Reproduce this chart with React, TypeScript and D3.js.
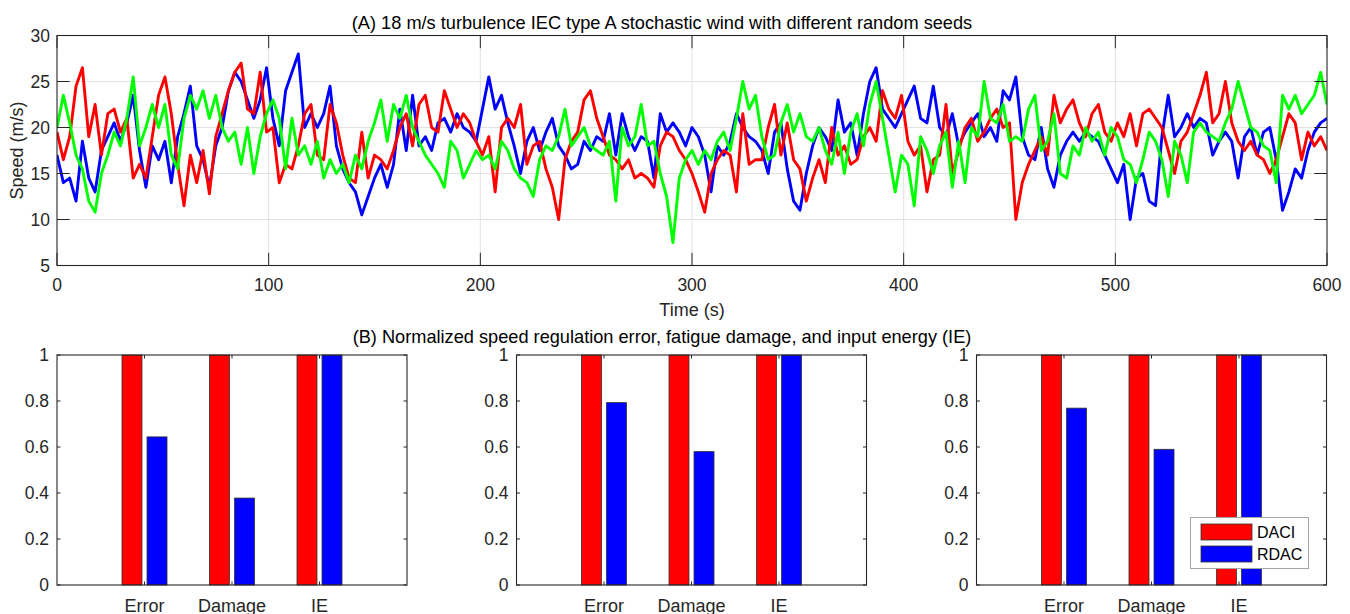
import React from 'react';
import * as d3 from 'd3';

// sample times (s)
const TIME: number[] = d3.range(0, 601, 3);

// wind speed series (m/s), every 3 s
const BLUE_SEED: number[] = [
  17, 14, 14.5, 12, 18.5, 14.5, 13, 17.5, 19, 20.5, 18.5, 20.5, 23.5, 17.5, 13.5, 18, 16.5, 18.5, 14, 19, 21.5, 24.5, 18, 16.5, 13.5, 18, 20, 24, 26, 25, 23, 21, 23, 26.5,
  21, 18, 24, 26, 28, 20, 21.5, 20, 21.5, 24.5, 18, 15.5, 14, 13, 10.5, 12.5, 14.5, 16, 13.5, 16, 22, 17.5, 23.5, 18, 19, 17.5, 20.5, 21, 19.5, 21.5, 20, 19.5, 18.5, 22,
  25.5, 22, 23.5, 20.5, 18, 15, 18.5, 20, 17.5, 19.5, 21, 18, 17, 15.5, 16, 18.5, 17.5, 19, 18.5, 21.5, 17, 21.5, 19, 17.5, 19, 18.5, 14.5, 21.5, 19.5, 20.5, 19.5, 18, 20,
  19, 17, 13, 18, 17, 18.5, 21.5, 20, 19, 18.5, 17.5, 15, 19.5, 20.5, 15.5, 12, 11, 15, 18, 20, 19, 17.5, 23, 19.5, 20.5, 17, 21.5, 25, 26.5, 22, 21, 20, 21.5, 23, 24.5, 21, 20.5,
  24.5, 20, 19, 21.5, 18, 19.5, 20.5, 21.5, 19, 20, 18.5, 24, 23, 25.5, 19, 17, 16.5, 20, 15.5, 13.5, 17, 18.5, 19.5, 18.5, 19.5, 19, 18.5, 17, 15.5, 14, 16, 10, 14.5, 15,
  12, 11.5, 19, 23.5, 19, 20, 21.5, 20, 21, 20.5, 17, 18.5, 19.5, 18.5, 14.5, 19, 20, 17, 19.5, 20, 16.5, 11, 13, 15.5, 14.5, 17.5, 19.5, 20.5, 21,
];
const RED_SEED: number[] = [
  19.5, 16.5, 19, 24.5, 26.5, 19, 22.5, 17, 21.5, 22, 19.5, 21, 14.5, 16, 14.5, 19, 23.5, 25.5, 21.5, 16, 11.5, 17, 14, 17.5, 12.8, 19, 21.5, 24, 26, 27, 22, 21.5, 26, 19.5,
  20, 14, 16, 15.5, 18, 21.5, 22.5, 17, 16.5, 22.5, 20.5, 17, 14.5, 14, 19.5, 14.5, 17, 16.5, 15.5, 17.5, 20, 21.5, 18, 22.5, 23.5, 20, 19.5, 24, 22, 20, 21.5, 20.5, 18.5, 17,
  19, 13, 20, 21, 20, 22.5, 16, 18, 18.5, 15.5, 13.5, 10, 16.5, 18.5, 19.5, 23, 24, 21, 19, 17, 16.5, 15.5, 16.5, 14.5, 15, 14.5, 13.5, 18, 19.5, 19, 17.5, 16.5, 15,
  13, 10.8, 15, 16.5, 17.5, 17, 13, 21.5, 16, 16.5, 16.5, 20, 22.5, 17, 20.5, 16.5, 15.5, 12, 14.5, 16.5, 14, 20, 17, 18, 16, 16.5, 19, 20, 18.5, 24, 22, 21, 23.5, 18.5, 17, 18, 13,
  16.5, 17, 22.5, 15, 17.5, 20, 21, 18.5, 19.5, 21, 22, 20, 20.5, 10, 14, 16, 17.5, 19, 17, 23.5, 20.5, 22, 23, 20.5, 19, 21.5, 22.5, 19.5, 18.5, 20.5, 19, 21.5, 18, 21.5,
  22, 21, 20, 17.5, 15, 18.5, 19.5, 21.5, 23.5, 26, 20.5, 21.5, 25, 20.5, 18.5, 17.5, 18.5, 17, 16.5, 15, 16.5, 19, 21.5, 20.5, 16.5, 19.5, 18, 19, 17.5,
];
const GREEN_SEED: number[] = [
  20, 23.5, 20.5, 17, 15.5, 12, 10.8, 15, 17, 19.5, 18, 21, 25.5, 18, 20, 22.5, 20, 22.5, 17, 15.5, 21, 23.5, 22, 24, 21, 23.5, 20, 18.5, 19.5, 16, 20, 15, 19, 21.5,
  23, 21, 15.5, 21, 17, 18, 16, 18.5, 14.5, 16.5, 15, 16, 14, 17, 15.5, 18.5, 20.5, 23, 18.5, 22.5, 21, 23.5, 20, 18.5, 17, 16, 15, 13.5, 18.5, 17.5, 14.5, 16, 17.5, 16.5,
  17, 15.5, 18.5, 17.5, 15.5, 14.5, 14, 12.5, 16.5, 18, 17.5, 19, 22, 18, 19, 20, 18, 17.5, 17, 18.5, 12, 20, 18, 19, 22.5, 18, 18.5, 15, 12.5, 7.5, 14.5, 16.5, 17.5,
  16, 17.5, 16.5, 18.5, 19.5, 17.5, 21, 25, 22, 23.5, 19, 16.5, 17, 20.5, 22.5, 19.5, 21.5, 19, 18.5, 20, 17.5, 16, 19.5, 15, 19.5, 21.5, 18, 22.5, 25, 21, 17, 13, 17, 16, 11.5, 19, 17.5,
  15, 18, 19.5, 13.5, 18.5, 14, 20, 19, 25, 21, 20.5, 22.5, 18.5, 19, 18.5, 22, 23.5, 17.5, 18.5, 21.5, 15, 14.5, 18, 17, 20, 18.5, 19.5, 17, 20, 19, 16.5, 16, 14, 16.5,
  19.5, 18.5, 16.5, 12.5, 18.5, 17, 14, 19.5, 20.5, 19.5, 19, 18.5, 20.5, 22, 25, 22.5, 20, 19.5, 18, 17.5, 14, 23.5, 22, 23.5, 21.5, 22.5, 23.5, 26, 22.5,
];

const TOP_X_TICKS = [0, 100, 200, 300, 400, 500, 600];
const TOP_Y_TICKS = [5, 10, 15, 20, 25, 30];

const CATEGORIES = ['Error', 'Damage', 'IE'];
const DACI = [
  [1, 1, 1],
  [1, 1, 1],
  [1, 1, 1],
];
const RDAC = [
  [0.644, 0.378, 1],
  [0.793, 0.58, 1],
  [0.769, 0.59, 1],
];
const BAR_Y_TICKS = [0, 0.2, 0.4, 0.6, 0.8, 1];
const LEGEND = ['DACI', 'RDAC'];

const FONT = '"Liberation Sans", Arial, Helvetica, sans-serif';
const AX = '#262626';
const GRID = '#e2e2e2';

const TOP = { l: 57, r: 1327, t: 35.5, b: 265.5 };
const PANELS = [
  { l: 57, r: 407 },
  { l: 516.5, r: 866.5 },
  { l: 976.5, r: 1326.5 },
];
const BAR_T = 355;
const BAR_B = 585;

function TopChart() {
  const x = d3.scaleLinear().domain([0, 600]).range([TOP.l, TOP.r]);
  const y = d3.scaleLinear().domain([5, 30]).range([TOP.b, TOP.t]);
  const tl = 12.7;
  const series = [
    { v: BLUE_SEED, c: '#0000ff' },
    { v: RED_SEED, c: '#ff0000' },
    { v: GREEN_SEED, c: '#00ff00' },
  ];
  const line = (vals: number[]) =>
    d3
      .line<number>()
      .x((_, i) => x(TIME[i]))
      .y((d) => y(d))(vals) || '';
  return (
    <g>
      {TOP_X_TICKS.slice(1, -1).map((t) => (
        <line key={'gx' + t} x1={x(t)} x2={x(t)} y1={TOP.t} y2={TOP.b} stroke={GRID} strokeWidth={1} />
      ))}
      {TOP_Y_TICKS.slice(1, -1).map((t) => (
        <line key={'gy' + t} x1={TOP.l} x2={TOP.r} y1={y(t)} y2={y(t)} stroke={GRID} strokeWidth={1} />
      ))}
      <defs>
        <clipPath id="topclip">
          <rect x={TOP.l} y={TOP.t} width={TOP.r - TOP.l} height={TOP.b - TOP.t} />
        </clipPath>
      </defs>
      <g clipPath="url(#topclip)">
        {series.map((s, i) => (
          <path key={i} d={line(s.v)} fill="none" stroke={s.c} strokeWidth={2.9} strokeLinejoin="round" />
        ))}
      </g>
      {TOP_X_TICKS.map((t) => (
        <g key={'tx' + t}>
          <line x1={x(t)} x2={x(t)} y1={TOP.b} y2={TOP.b - tl} stroke={AX} />
          <line x1={x(t)} x2={x(t)} y1={TOP.t} y2={TOP.t + tl} stroke={AX} />
          <text x={x(t)} y={TOP.b + 25} textAnchor="middle" fontSize={17.5} fill={AX}>
            {t}
          </text>
        </g>
      ))}
      {TOP_Y_TICKS.map((t) => (
        <g key={'ty' + t}>
          <line x1={TOP.l} x2={TOP.l + tl} y1={y(t)} y2={y(t)} stroke={AX} />
          <line x1={TOP.r} x2={TOP.r - tl} y1={y(t)} y2={y(t)} stroke={AX} />
          <text x={TOP.l - 7} y={y(t) + 6} textAnchor="end" fontSize={17.5} fill={AX}>
            {t}
          </text>
        </g>
      ))}
      <rect x={TOP.l} y={TOP.t} width={TOP.r - TOP.l} height={TOP.b - TOP.t} fill="none" stroke={AX} strokeWidth={1.1} />
      <text x={(TOP.l + TOP.r) / 2} y={316} textAnchor="middle" fontSize={18} fill={AX}>
        Time (s)
      </text>
      <text
        transform={`translate(23,${(TOP.t + TOP.b) / 2}) rotate(-90)`}
        textAnchor="middle"
        fontSize={18}
        fill={AX}
      >
        Speed (m/s)
      </text>
      <text x={662} y={29} textAnchor="middle" fontSize={18.2} fill="#000">
        (A) 18 m/s turbulence IEC type A stochastic wind with different random seeds
      </text>
    </g>
  );
}

function BarPanel({ idx }: { idx: number }) {
  const p = PANELS[idx];
  const x = d3.scaleLinear().domain([0, 4]).range([p.l, p.r]);
  const y = d3.scaleLinear().domain([0, 1]).range([BAR_B, BAR_T]);
  const bw = 0.2286;
  const off = 0.143;
  const tl = 3.5;
  const groups = [
    { vals: DACI[idx], c: '#ff0000', o: -off },
    { vals: RDAC[idx], c: '#0000ff', o: off },
  ];
  return (
    <g>
      {groups.map((g, gi) =>
        g.vals.map((v, i) => {
          const cx = i + 1 + g.o;
          return (
            <rect
              key={gi + '-' + i}
              x={x(cx - bw / 2)}
              y={y(v)}
              width={x(cx + bw / 2) - x(cx - bw / 2)}
              height={y(0) - y(v)}
              fill={g.c}
              stroke="#333"
              strokeWidth={0.8}
            />
          );
        })
      )}
      {CATEGORIES.map((c, i) => (
        <g key={c}>
          <line x1={x(i + 1)} x2={x(i + 1)} y1={BAR_B} y2={BAR_B - tl} stroke={AX} />
          <line x1={x(i + 1)} x2={x(i + 1)} y1={BAR_T} y2={BAR_T + tl} stroke={AX} />
          <text x={x(i + 1)} y={612} textAnchor="middle" fontSize={18} fill={AX}>
            {c}
          </text>
        </g>
      ))}
      {BAR_Y_TICKS.map((t) => (
        <g key={t}>
          <line x1={p.l} x2={p.l + tl} y1={y(t)} y2={y(t)} stroke={AX} />
          <line x1={p.r} x2={p.r - tl} y1={y(t)} y2={y(t)} stroke={AX} />
          <text x={p.l - 8} y={y(t) + 6} textAnchor="end" fontSize={17.5} fill={AX}>
            {String(t)}
          </text>
        </g>
      ))}
      <rect x={p.l} y={BAR_T} width={p.r - p.l} height={BAR_B - BAR_T} fill="none" stroke={AX} strokeWidth={1.1} />
    </g>
  );
}

function Legend() {
  const bx = 1190.5;
  const by = 517.5;
  const items = [
    { c: '#ff0000', label: LEGEND[0] },
    { c: '#0000ff', label: LEGEND[1] },
  ];
  return (
    <g>
      <rect x={bx} y={by} width={118} height={51} fill="#fff" stroke="#a6a6a6" strokeWidth={1} />
      {items.map((it, i) => (
        <g key={it.label}>
          <rect x={1201} y={524 + i * 22} width={51} height={16} fill={it.c} stroke="#333" strokeWidth={0.8} />
          <text x={1257} y={538 + i * 22} fontSize={16} fill="#000">
            {it.label}
          </text>
        </g>
      ))}
    </g>
  );
}

export default function App() {
  return (
    <svg
      width={1350}
      height={614}
      style={{ position: 'absolute', left: 0, top: 0, background: '#fff' }}
      fontFamily={FONT}
    >
      <rect width={1350} height={614} fill="#fff" />
      <TopChart />
      <text x={662} y={343} textAnchor="middle" fontSize={18.2} fill="#000">
        (B) Normalized speed regulation error, fatigue damage, and input energy (IE)
      </text>
      {PANELS.map((_, i) => (
        <BarPanel key={i} idx={i} />
      ))}
      <Legend />
    </svg>
  );
}
